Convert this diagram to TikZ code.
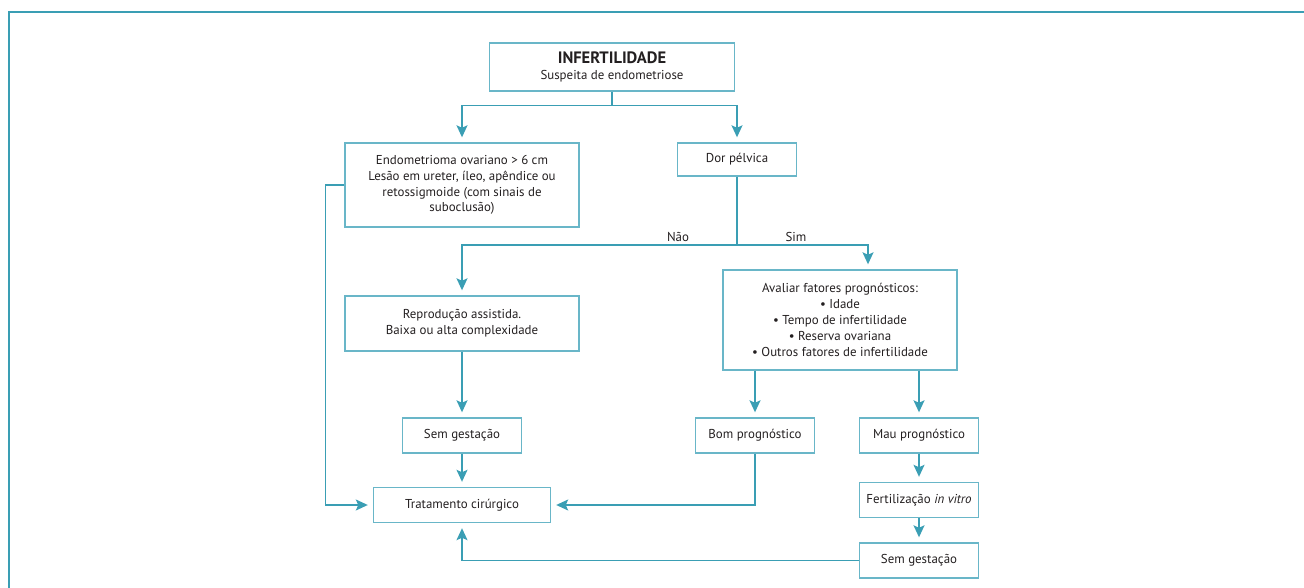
\documentclass[tikz,border=0pt]{standalone}
\usepackage{fontspec}
\setmainfont{PT Sans}
\usetikzlibrary{arrows.meta,calc}
\definecolor{teal1}{RGB}{58,158,180}
\definecolor{tealbox}{RGB}{105,182,200}
\definecolor{txt}{RGB}{35,31,32}
\begin{document}
\begin{tikzpicture}[x=1pt,y=-1pt,
  box/.style={draw=tealbox,line width=1.4pt,inner sep=2pt,align=center,text=txt,font=\fontsize{12.9}{15.8}\selectfont},
  conn/.style={draw=teal1,line width=1.6pt},
  arr/.style={conn,-{Stealth[length=12pt,width=11pt,inset=2.5pt]},shorten >=5pt},
  lbl/.style={font=\fontsize{12.9}{14}\selectfont,text=txt,inner sep=0pt}]
\useasboundingbox (0,0) rectangle (1304,588);
\draw[teal1,line width=2pt] (1304,12) -- (9,12) -- (9,588);
% nodes
\node[box,minimum width=245pt,minimum height=48pt] (top) at (612,67) {{\bfseries\fontsize{16.5}{17}\selectfont INFERTILIDADE}\\Suspeita de endometriose};
\node[box,minimum width=234pt,minimum height=84pt] (endo) at (462,185) {Endometrioma ovariano > 6 cm\\Lesão em ureter, íleo, apêndice ou\\retossigmoide (com sinais de\\suboclusão)};
\node[box,minimum width=119pt,minimum height=33pt] (dor) at (737,159.5) {Dor pélvica};
\node[box,minimum width=234pt,minimum height=55pt] (repro) at (462,323.5) {Reprodução assistida.\\Baixa ou alta complexidade};
\node[box,minimum width=234pt,minimum height=100pt] (aval) at (840,320) {Avaliar fatores prognósticos:\\• Idade\\• Tempo de infertilidade\\• Reserva ovariana\\• Outros fatores de infertilidade};
\node[box,minimum width=119pt,minimum height=35pt] (semA) at (462,435.5) {Sem gestação};
\node[box,minimum width=177pt,minimum height=35pt] (trat) at (462,505) {Tratamento cirúrgico};
\node[box,minimum width=119pt,minimum height=35pt] (bom) at (755,435.5) {Bom prognóstico};
\node[box,minimum width=119pt,minimum height=35pt] (mau) at (919,435.5) {Mau prognóstico};
\node[box,minimum width=119pt,minimum height=35pt] (fert) at (919,500) {Fertilização \textit{in vitro}};
\node[box,minimum width=119pt,minimum height=35pt] (semB) at (919,560.5) {Sem gestação};
% connectors
\draw[conn] (top.south) -- ++(0,14) coordinate (j1);
\draw[arr] (j1) -| (endo.north);
\draw[arr] (j1) -| (dor.north);
\draw[conn] (dor.south) -- (737,245) coordinate (j2);
\coordinate (avin) at ([xshift=28pt]aval.north);
\draw[arr] (j2) -| (repro.north);
\draw[arr] (j2) -| (avin);
\node[lbl] (nao) at (678,237) {Não};
\node[lbl] (sim) at (796,237) {Sim};
\draw[arr] (repro.south) -- (semA.north);
\draw[arr] (semA.south) -- (trat.north);
\draw[arr] (endo.west) -- ++(-19,0) |- (trat.west);
\draw[arr] (bom.south) |- (trat.east);
\draw[arr] (aval.south -| bom.north) -- (bom.north);
\draw[arr] (aval.south -| mau.north) -- (mau.north);
\draw[arr] (mau.south) -- (fert.north);
\draw[arr] (fert.south) -- (semB.north);
\draw[arr] (semB.west) -| (trat.south);
\end{tikzpicture}
\end{document}
